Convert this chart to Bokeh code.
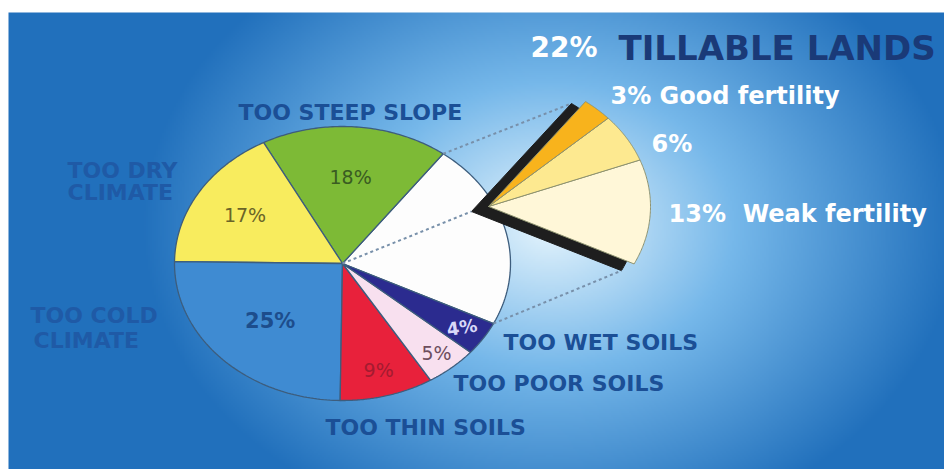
import numpy as np
from bokeh.plotting import figure
from bokeh.models import ColumnDataSource, Range1d
from bokeh.core.properties import value
from bokeh.embed import file_html
from bokeh.resources import INLINE

# ---------------- data ----------------
categories = ["TILLABLE LANDS", "TOO STEEP SLOPE", "TOO DRY CLIMATE", "TOO COLD CLIMATE",
              "TOO THIN SOILS", "TOO POOR SOILS", "TOO WET SOILS"]
shares = [22, 18, 17, 25, 9, 5, 4]
tillable_classes = ["Weak fertility", "Medium fertility", "Good fertility"]
tillable_shares = [13, 6, 3]

# ---------------- styles / layout ----------------
slice_colors = ["#fdfdfd", "#7dba36", "#f8ec5e", "#3f8bd2", "#e8213b", "#f8e0ef", "#2b2b8f"]
tillable_colors = ["#fff7d8", "#fde990", "#f8b31c"]
pct_colors = [None, "#3a5c22", "#6a6428", "#1d4d8c", "#a31b30", "#6d4e5e", "#d8d8f8"]
pct_bold = [False, False, False, True, False, False, True]
pct_size = [0, 19, 19, 21, 19, 19, 18]
label_r = [0, 0.63, 0.68, 0.60, 0.81, 0.86, 0.85]

W, H = 944, 469
FONT = value("DejaVu Sans")


def sy(y):
    return H - y


CX, CY, RX, RY = 342, sy(263), 168, 137
START = -26.0
EX, EY, ERX, ERY = 488, sy(206), 162, 131
SHX, SHY, SHS = -17, -5, 1.03


def wedge(cx, cy, rx, ry, a0, a1, n=80):
    t = np.radians(np.linspace(a0, a1, n))
    xs = [cx] + list(cx + rx * np.cos(t))
    ys = [cy] + list(cy + ry * np.sin(t))
    return xs, ys


def on_ellipse(cx, cy, rx, ry, a, f=1.0):
    t = np.radians(a)
    return cx + f * rx * np.cos(t), cy + f * ry * np.sin(t)


p = figure(width=W, height=H, x_range=Range1d(0, W), y_range=Range1d(0, H),
           output_backend="svg", toolbar_location=None,
           x_axis_location=None, y_axis_location=None, min_border=0)
p.grid.visible = False
p.outline_line_color = None
p.background_fill_color = "white"
p.border_fill_color = "white"

# ---------------- background gradient ----------------
Wg, Hg = 472, 229
gx = np.linspace(8, W, Wg)
gy_data = np.linspace(0, 457, Hg)
X, Yd = np.meshgrid(gx, gy_data)
Ys = H - Yd
t = np.clip(np.sqrt(((X - 550) / 410.0) ** 2 + ((Ys - 225) / 320.0) ** 2), 0, 1)
stops_t = [0.0, 0.45, 1.0]
stops_c = [(230, 245, 253), (118, 184, 234), (33, 112, 188)]
img = np.empty((Hg, Wg), dtype=np.uint32)
view = img.view(dtype=np.uint8).reshape((Hg, Wg, 4))
for k in range(3):
    view[:, :, k] = np.interp(t, stops_t, [c[k] for c in stops_c]).astype(np.uint8)
view[:, :, 3] = 255
p.image_rgba(image=[img], x=8, y=0, dw=W - 8, dh=457)

# ---------------- main pie ----------------
bounds = START + 360.0 * np.concatenate([[0], np.cumsum(shares)]) / 100.0
pxs, pys = [], []
for i in range(len(shares)):
    xs, ys = wedge(CX, CY, RX, RY, bounds[i], bounds[i + 1])
    pxs.append(xs)
    pys.append(ys)
src = ColumnDataSource(dict(xs=pxs, ys=pys, color=slice_colors, name=categories))
p.patches("xs", "ys", fill_color="color", line_color="#3d5d7d", line_width=1.3, source=src)

# ---------------- exploded tillable wedge ----------------
t0, t1 = bounds[0], bounds[1]
shx, shy = wedge(EX + SHX, EY + SHY, ERX * SHS, ERY * SHS, t0, t1)
p.patch(shx, shy, fill_color="#1e1e1e", line_color="#1e1e1e", line_width=1)

tb = t0 + (t1 - t0) * np.concatenate([[0], np.cumsum(tillable_shares)]) / sum(tillable_shares)
txs, tys = [], []
for i in range(len(tillable_shares)):
    xs, ys = wedge(EX, EY, ERX, ERY, tb[i], tb[i + 1])
    txs.append(xs)
    tys.append(ys)
tsrc = ColumnDataSource(dict(xs=txs, ys=tys, color=tillable_colors, name=tillable_classes))
p.patches("xs", "ys", fill_color="color", line_color="#8d9270", line_width=1, source=tsrc)

# ---------------- dotted connectors ----------------
a_top = on_ellipse(CX, CY, RX, RY, t1)
b_top = on_ellipse(EX + SHX, EY + SHY, ERX * SHS, ERY * SHS, t1)
a_bot = on_ellipse(CX, CY, RX, RY, t0)
b_bot = on_ellipse(EX + SHX, EY + SHY, ERX * SHS, ERY * SHS, t0)
p.multi_line(xs=[[a_top[0], b_top[0]], [CX, EX + SHX], [a_bot[0], b_bot[0]]],
             ys=[[a_top[1], b_top[1]], [CY, EY + SHY], [a_bot[1], b_bot[1]]],
             line_color="#7890aa", line_width=2, line_dash="3 3")

# ---------------- percentage labels in slices ----------------
for i in range(1, len(shares)):
    mid = (bounds[i] + bounds[i + 1]) / 2
    lx, ly = on_ellipse(CX, CY, RX, RY, mid, label_r[i])
    p.text(x=[lx], y=[ly], text=[f"{shares[i]}%"], text_color=pct_colors[i],
           text_font=FONT, text_font_size=f"{pct_size[i]}px",
           text_font_style="bold" if pct_bold[i] else "normal",
           text_align="center", text_baseline="middle",
           angle=0.15 if i == 6 else 0)

# ---------------- category labels ----------------
cat_lines = [
    ("TOO STEEP SLOPE", 238, 112),
    ("TOO DRY", 67, 170), ("CLIMATE", 67, 192),
    ("TOO COLD", 30, 315), ("CLIMATE", 33, 340),
    ("TOO WET SOILS", 503, 342),
    ("TOO POOR SOILS", 453, 383),
    ("TOO THIN SOILS", 325, 427),
]
for txt, x, y in cat_lines:
    col = "#1f5aa6" if txt in ("TOO DRY", "CLIMATE", "TOO COLD") else "#1b4f96"
    p.text(x=[x], y=[sy(y)], text=[txt], text_color=col, text_font=FONT,
           text_font_size="22px", text_font_style="bold",
           text_align="left", text_baseline="middle")

# ---------------- tillable headings ----------------
p.text(x=[530], y=[sy(47)], text=[f"{shares[0]}%"], text_color="white", text_font=FONT,
       text_font_size="28px", text_font_style="bold", text_align="left", text_baseline="middle")
p.text(x=[618], y=[sy(47)], text=[categories[0]], text_color="#1a3a78", text_font=FONT,
       text_font_size="34px", text_font_style="bold", text_align="left", text_baseline="middle")

till_lines = [
    (f"{tillable_shares[2]}% {tillable_classes[2]}", 610, 95),
    (f"{tillable_shares[1]}%", 651, 143),
    (f"{tillable_shares[0]}%\u00a0\u00a0{tillable_classes[0]}", 668, 213),
]
for txt, x, y in till_lines:
    p.text(x=[x], y=[sy(y)], text=[txt], text_color="white", text_font=FONT,
           text_font_size="24px", text_font_style="bold",
           text_align="left", text_baseline="middle")

open("out.html", "w").write(file_html(p, INLINE))
